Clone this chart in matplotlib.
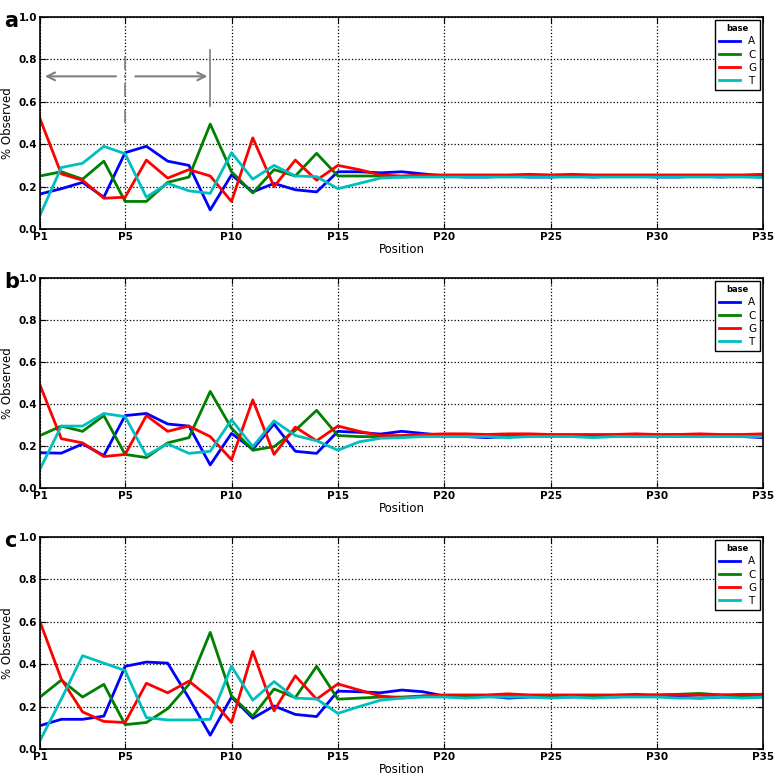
import matplotlib
matplotlib.use("Agg")
import matplotlib.pyplot as plt

positions = list(range(1, 36))
tick_pos = [1, 5, 10, 15, 20, 25, 30, 35]
tick_labels = ["P%d" % p for p in tick_pos]
bases = ["A", "C", "G", "T"]
colors = ["#0000ff", "#008000", "#ff0000", "#00bfbf"]

# panel a
a_A = [0.165, 0.19, 0.22, 0.15, 0.36, 0.39, 0.32, 0.30, 0.09, 0.255, 0.175, 0.215, 0.185, 0.175, 0.27, 0.27, 0.265, 0.27,
       0.26, 0.25, 0.245, 0.245, 0.25, 0.245, 0.245, 0.25, 0.245, 0.25, 0.25, 0.245, 0.245, 0.25, 0.245, 0.25, 0.245]
a_C = [0.25, 0.27, 0.235, 0.32, 0.13, 0.13, 0.22, 0.245, 0.495, 0.27, 0.17, 0.28, 0.25, 0.357, 0.25, 0.25, 0.25, 0.245,
       0.25, 0.25, 0.25, 0.25, 0.25, 0.25, 0.25, 0.25, 0.25, 0.25, 0.25, 0.25, 0.25, 0.25, 0.25, 0.25, 0.25]
a_G = [0.52, 0.26, 0.23, 0.145, 0.15, 0.325, 0.24, 0.28, 0.25, 0.13, 0.43, 0.20, 0.325, 0.23, 0.30, 0.28, 0.255, 0.25,
       0.255, 0.255, 0.255, 0.255, 0.255, 0.258, 0.255, 0.258, 0.255, 0.255, 0.255, 0.255, 0.255, 0.255, 0.255, 0.255, 0.258]
a_T = [0.065, 0.29, 0.31, 0.39, 0.355, 0.15, 0.215, 0.18, 0.168, 0.36, 0.235, 0.30, 0.25, 0.247, 0.19, 0.215, 0.24, 0.245,
       0.245, 0.245, 0.245, 0.245, 0.245, 0.245, 0.245, 0.245, 0.245, 0.245, 0.245, 0.245, 0.245, 0.245, 0.245, 0.245, 0.243]

# panel b
b_A = [0.168, 0.166, 0.21, 0.155, 0.345, 0.355, 0.305, 0.295, 0.11, 0.26, 0.185, 0.305, 0.175, 0.165, 0.27, 0.265, 0.257, 0.27,
       0.26, 0.25, 0.245, 0.24, 0.245, 0.25, 0.245, 0.25, 0.245, 0.25, 0.25, 0.245, 0.245, 0.25, 0.245, 0.245, 0.24]
b_C = [0.25, 0.295, 0.27, 0.345, 0.16, 0.145, 0.215, 0.24, 0.46, 0.285, 0.18, 0.197, 0.275, 0.37, 0.25, 0.245, 0.245, 0.245,
       0.25, 0.25, 0.25, 0.25, 0.25, 0.255, 0.25, 0.25, 0.25, 0.25, 0.25, 0.25, 0.255, 0.25, 0.25, 0.25, 0.25]
b_G = [0.49, 0.235, 0.215, 0.15, 0.16, 0.345, 0.27, 0.295, 0.245, 0.135, 0.42, 0.16, 0.29, 0.225, 0.295, 0.27, 0.25, 0.25,
       0.255, 0.258, 0.258, 0.255, 0.258, 0.258, 0.255, 0.255, 0.255, 0.255, 0.258, 0.255, 0.255, 0.258, 0.255, 0.255, 0.258]
b_T = [0.09, 0.295, 0.295, 0.355, 0.34, 0.155, 0.21, 0.165, 0.175, 0.325, 0.197, 0.32, 0.25, 0.225, 0.18, 0.22, 0.237, 0.24,
       0.245, 0.245, 0.245, 0.245, 0.24, 0.245, 0.245, 0.245, 0.24, 0.245, 0.245, 0.245, 0.245, 0.245, 0.245, 0.245, 0.245]

# panel c
c_A = [0.11, 0.14, 0.14, 0.155, 0.39, 0.41, 0.405, 0.24, 0.065, 0.245, 0.145, 0.203, 0.163, 0.153, 0.273, 0.27, 0.265, 0.278,
       0.27, 0.25, 0.245, 0.25, 0.24, 0.245, 0.245, 0.245, 0.25, 0.245, 0.25, 0.25, 0.245, 0.24, 0.245, 0.245, 0.245]
c_C = [0.245, 0.325, 0.245, 0.305, 0.115, 0.125, 0.19, 0.305, 0.55, 0.25, 0.155, 0.283, 0.242, 0.39, 0.235, 0.24, 0.245, 0.245,
       0.25, 0.25, 0.25, 0.25, 0.25, 0.25, 0.25, 0.25, 0.25, 0.25, 0.25, 0.255, 0.258, 0.262, 0.255, 0.25, 0.25]
c_G = [0.60, 0.33, 0.175, 0.13, 0.125, 0.31, 0.265, 0.32, 0.24, 0.125, 0.46, 0.18, 0.345, 0.235, 0.307, 0.278, 0.25, 0.24,
       0.25, 0.255, 0.255, 0.255, 0.26, 0.255, 0.255, 0.255, 0.255, 0.255, 0.258, 0.255, 0.255, 0.255, 0.255, 0.258, 0.258]
c_T = [0.04, 0.235, 0.44, 0.405, 0.37, 0.148, 0.137, 0.137, 0.14, 0.39, 0.23, 0.318, 0.24, 0.236, 0.168, 0.2, 0.23, 0.24,
       0.245, 0.245, 0.24, 0.245, 0.245, 0.245, 0.24, 0.245, 0.24, 0.245, 0.245, 0.245, 0.24, 0.24, 0.245, 0.24, 0.245]

panels = [("a", [a_A, a_C, a_G, a_T]),
          ("b", [b_A, b_C, b_G, b_T]),
          ("c", [c_A, c_C, c_G, c_T])]

fig = plt.figure(figsize=(7.77, 7.76), dpi=100)
fig.patch.set_facecolor("white")

# axes rectangles
rects = [[0.0515, 0.7049, 0.931, 0.2732],
         [0.0515, 0.3711, 0.931, 0.2706],
         [0.0515, 0.0348, 0.931, 0.2732]]

for (letter, series), rect in zip(panels, rects):
    ax = fig.add_axes(rect)
    for name, vals, col in zip(bases, series, colors):
        ax.plot(positions, vals, color=col, lw=2, label=name)
    ax.set_xlim(1, 35)
    ax.set_ylim(0, 1.0)
    ax.set_xticks(tick_pos)
    ax.set_xticklabels(tick_labels, fontsize=7.5, fontweight="bold")
    ax.set_yticks([0, 0.2, 0.4, 0.6, 0.8, 1.0])
    ax.set_yticklabels(["0.0", "0.2", "0.4", "0.6", "0.8", "1.0"], fontsize=7.5, fontweight="bold")
    ax.tick_params(direction="in", top=True, right=True, length=4, pad=2)
    ax.grid(True, color="black", linestyle=":", linewidth=0.9)
    ax.set_xlabel("Position", fontsize=8.5, labelpad=1)
    ax.set_ylabel("% Observed", fontsize=8.5, labelpad=3)
    for s in ax.spines.values():
        s.set_linewidth(1.2)
    leg = ax.legend(title="base", loc="upper right", fontsize=7.5, title_fontsize=6,
                    borderaxespad=0.3, handlelength=2.0,
                    fancybox=False, framealpha=1, edgecolor="black",
                    labelspacing=0.3, borderpad=0.4)
    leg.get_title().set_fontweight("bold")
    leg.get_frame().set_linewidth(1.0)
    fig.text(0.005, rect[1] + rect[3] + 0.008, letter, fontsize=15, fontweight="bold", va="top")

    if letter == "a":
        arr = dict(arrowstyle="->", color="#808080", lw=1.5, mutation_scale=14)
        ax.annotate("", xy=(1.1, 0.72), xytext=(4.7, 0.72), arrowprops=arr)
        ax.annotate("", xy=(9, 0.72), xytext=(5.35, 0.72), arrowprops=arr)
        ax.plot([9, 9], [0.58, 0.845], color="#808080", lw=1.2)
        ax.plot([5, 5], [0.50, 0.845], color="#808080", lw=1.2, dashes=(8, 3, 2, 3))

fig.savefig("out.png", dpi=100, facecolor="white")
